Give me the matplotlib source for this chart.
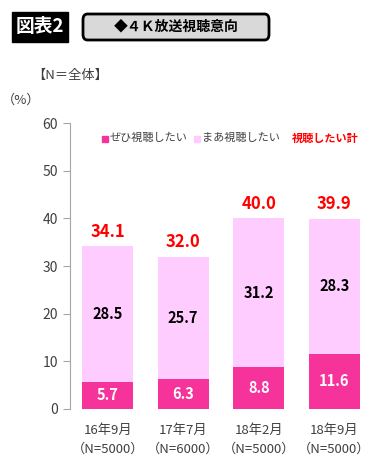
import matplotlib.pyplot as plt
from matplotlib.patches import FancyBboxPatch, Rectangle
import numpy as np

plt.rcParams['font.family'] = ['Noto Sans CJK JP', 'DejaVu Sans']

periods = ["16年9月", "17年7月", "18年2月", "18年9月"]
samples = ["（N=5000）", "（N=6000）", "（N=5000）", "（N=5000）"]
definitely = [5.7, 6.3, 8.8, 11.6]
somewhat = [28.5, 25.7, 31.2, 28.3]
totals = [34.1, 32.0, 40.0, 39.9]

dark = "#F5339A"
light = "#FFCCFF"

fig = plt.figure(figsize=(3.8, 4.72), dpi=100)
ax = fig.add_axes([0.184, 0.1335, 0.795, 0.6055])

x = np.arange(len(periods))
w = 0.675
ax.bar(x, definitely, w, color=dark)
ax.bar(x, somewhat, w, bottom=definitely, color=light)

for i in range(len(x)):
    ax.text(x[i], definitely[i] / 2, f"{definitely[i]:.1f}", ha='center', va='center',
            color='white', fontsize=10.5, fontweight='bold')
    ax.text(x[i], definitely[i] + somewhat[i] / 2, f"{somewhat[i]:.1f}", ha='center', va='center',
            color='black', fontsize=10.5, fontweight='bold')
    ax.text(x[i], totals[i] + 1.2, f"{totals[i]:.1f}", ha='center', va='bottom',
            color='#FF0000', fontsize=12, fontweight='bold')

ax.set_xlim(-0.5, len(x) - 0.5)
ax.set_ylim(0, 60)
ax.set_yticks(range(0, 61, 10))
ax.set_xticks(x)
ax.set_xticklabels([f"{p}\n{s}" for p, s in zip(periods, samples)], fontsize=9.5, linespacing=1.5)
for s in ['top', 'right', 'bottom']:
    ax.spines[s].set_visible(False)
ax.spines['left'].set_color('#A6A6A6')
ax.tick_params(axis='y', colors='#A6A6A6', labelcolor='#404040', labelsize=10, length=5)
ax.tick_params(axis='x', length=0, labelcolor='#404040', pad=11)

# legend as text
fig.patches.append(Rectangle((102 / 380, 1 - 142 / 472), 6 / 380, 6 / 472, color=dark,
                             transform=fig.transFigure))
fig.text(110 / 380, 1 - 138 / 472, "ぜひ視聴したい", fontsize=8, va='center', color='#404040')
fig.patches.append(Rectangle((194 / 380, 1 - 142 / 472), 6 / 380, 6 / 472, color=light,
                             transform=fig.transFigure))
fig.text(202 / 380, 1 - 138 / 472, "まあ視聴したい", fontsize=8, va='center', color='#404040')
fig.text(292 / 380, 1 - 138 / 472, "視聴したい計", fontsize=8, va='center', color='#FF0000',
         fontweight='bold')

# header
fig.patches.append(Rectangle((12 / 380, 1 - 42 / 472), 56 / 380, 30 / 472, color='black',
                             transform=fig.transFigure))
fig.text(40 / 380, 1 - 27 / 472, "図表2", fontsize=13.5, fontweight='bold', color='white',
         ha='center', va='center')
fig.patches.append(FancyBboxPatch((83 / 380, 1 - 40 / 472), 186 / 380, 26 / 472,
                                  boxstyle="round,pad=0,rounding_size=0.012",
                                  facecolor='#D9D9D9', edgecolor='black', linewidth=2,
                                  transform=fig.transFigure))
fig.text(176 / 380, 1 - 27 / 472, "◆４Ｋ放送視聴意向", fontsize=10, fontweight='bold',
         ha='center', va='center')

fig.text(32 / 380, 1 - 75 / 472, "【N＝全体】", fontsize=9.5, va='center', color='#404040')
fig.text(2 / 380, 1 - 100 / 472, "（%）", fontsize=9.5, va='center', color='#404040')

fig.savefig("out.png", dpi=100)
